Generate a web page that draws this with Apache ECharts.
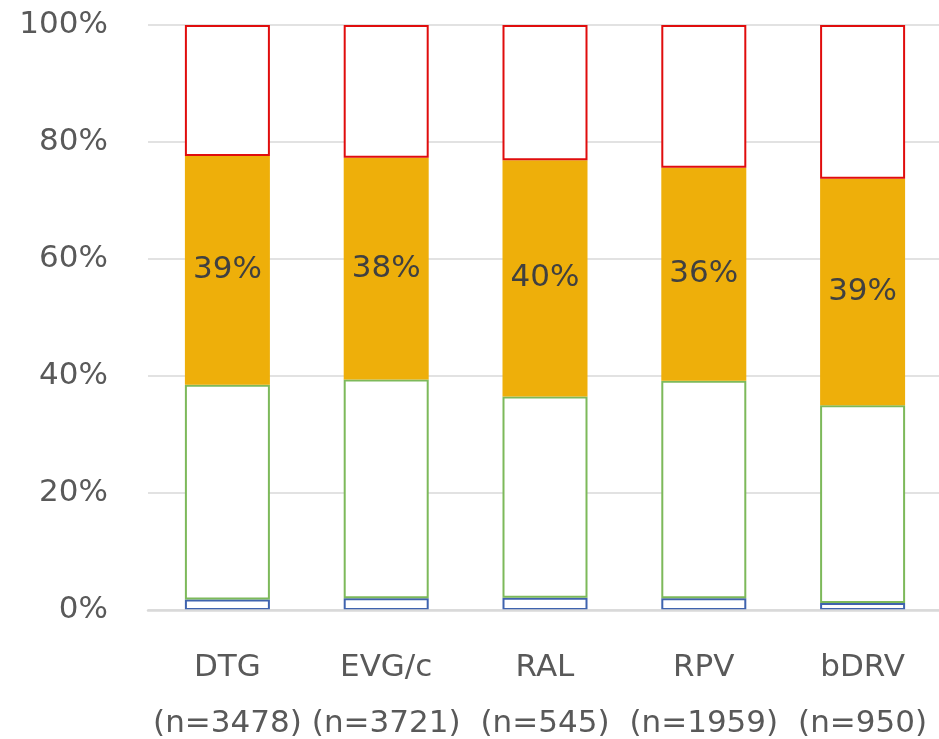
<!DOCTYPE html>
<html>
<head>
<meta charset="utf-8">
<script src="https://cdn.jsdelivr.net/npm/echarts@6/dist/echarts.min.js"></script>
<style>
html,body{margin:0;padding:0;background:#fff;}
#c{width:939px;height:739px;}
</style>
</head>
<body>
<div id="c"></div>
<script>
const categories = ['DTG', 'EVG/c', 'RAL', 'RPV', 'bDRV'];
const sampleSizes = ['(n=3478)', '(n=3721)', '(n=545)', '(n=1959)', '(n=950)'];
const blueValues = [1.8, 2.0, 2.1, 2.0, 1.2];
const greenValues = [36.7, 37.4, 34.4, 37.2, 33.8];
const orangeValues = [39.1, 37.9, 40.4, 36.4, 38.7];
const redValues = [22.4, 22.7, 23.1, 24.4, 26.3];
const yTicks = [0, 20, 40, 60, 80, 100];

const chart = echarts.init(document.getElementById('c'), null, {renderer: 'canvas'});
const FONT = 'DejaVu Sans';
const outlined = (name, data, color) => ({
  name, type: 'bar', stack: 'all', data, barWidth: 85,
  itemStyle: {color: '#ffffff', borderColor: color, borderWidth: 2},
  silent: true
});
chart.setOption({
  animation: false,
  grid: {left: 148, right: -3, top: 25, bottom: 129, containLabel: false, outerBoundsMode: 'none'},
  xAxis: {
    type: 'category',
    data: categories,
    z: 5,
    axisLine: {show: true, lineStyle: {color: '#D9D9D9', width: 2.5}},
    axisTick: {show: false},
    axisLabel: {
      formatter: (v, i) => v + '\n' + sampleSizes[i],
      color: '#595959', fontFamily: FONT, fontSize: 31, lineHeight: 56, margin: 30,
      interval: 0
    }
  },
  yAxis: {
    type: 'value', min: yTicks[0], max: yTicks[yTicks.length - 1], interval: 20,
    axisLine: {show: false}, axisTick: {show: false},
    splitLine: {lineStyle: {color: '#D9D9D9', width: 1.5}},
    axisLabel: {formatter: v => v + '%', color: '#595959', fontFamily: FONT, fontSize: 31, margin: 40}
  },
  series: [
    outlined('blue', blueValues, '#3F63AE'),
    outlined('green', greenValues, '#7DB95A'),
    {
      name: 'orange', type: 'bar', stack: 'all', data: orangeValues, barWidth: 87,
      itemStyle: {color: '#EEAF0A'},
      label: {show: true, position: 'inside', formatter: p => Math.round(p.value) + '%',
        color: '#404040', fontFamily: FONT, fontSize: 31},
      silent: true
    },
    outlined('red', redValues, '#E00D0D')
  ]
});
</script>
</body>
</html>
